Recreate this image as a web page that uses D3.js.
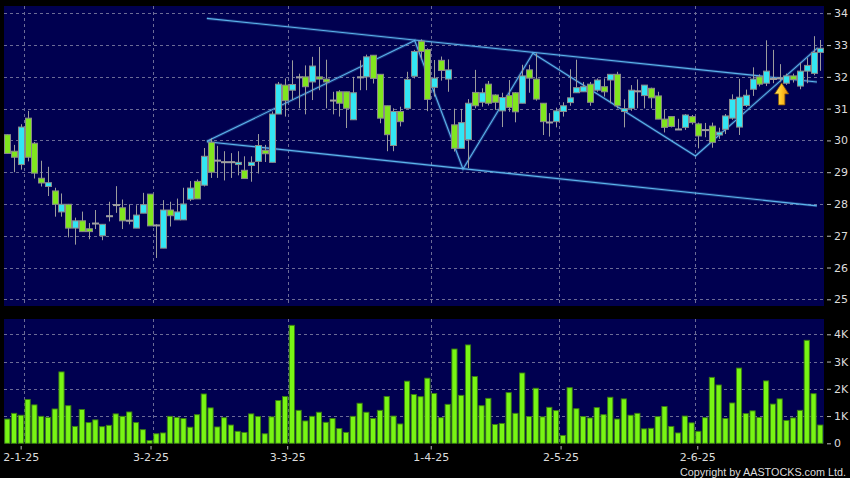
<!DOCTYPE html>
<html><head><meta charset="utf-8">
<script src="https://cdn.jsdelivr.net/npm/d3@7/dist/d3.min.js"></script>
<style>html,body{margin:0;padding:0;background:#000;}svg{display:block}</style>
</head><body>
<svg id="c" width="850" height="478"></svg>
<script>
// ---- data ----
const opens = [30.18,29.66,29.24,30.70,29.91,28.81,28.55,28.41,27.75,27.99,27.24,27.47,27.22,27.40,27.00,27.63,27.98,27.88,27.49,27.24,
27.71,28.31,27.34,26.61,27.81,27.50,27.50,28.15,28.71,28.59,29.94,29.38,29.33,29.33,29.24,29.06,29.21,29.34,29.69,29.31,
30.83,31.74,31.58,32.00,32.00,31.84,32.00,31.93,31.27,31.53,31.53,30.65,32.00,32.00,32.68,32.08,31.09,29.84,30.91,31.01,
32.02,33.12,32.86,31.67,32.52,31.93,30.49,29.75,30.02,31.51,31.20,31.77,31.43,30.93,31.41,31.50,31.17,32.22,31.93,31.17,
30.58,30.59,30.91,31.19,31.50,31.53,31.77,31.58,31.69,31.90,32.08,30.91,31.01,31.56,31.41,31.64,31.40,30.67,30.75,30.36,
30.41,30.75,30.52,30.34,30.45,30.17,30.35,30.70,30.42,31.10,31.61,32.00,31.80,31.95,31.97,31.80,32.03,31.71,32.18,32.11,32.77];
const highs = [30.19,29.86,30.51,30.93,29.95,29.36,29.17,28.51,28.33,28.00,27.57,27.76,27.40,27.81,27.36,28.07,28.56,28.14,27.99,27.96,
28.35,28.31,27.36,28.12,28.07,28.17,28.51,28.72,28.77,29.76,30.07,29.83,29.66,29.60,29.66,29.50,29.50,30.20,29.86,30.91,
31.84,31.95,32.52,32.10,32.36,32.63,32.94,32.54,31.53,31.58,31.53,32.00,32.52,32.70,32.68,32.08,31.09,31.01,31.06,32.16,
32.85,33.18,32.90,32.53,32.64,32.55,31.00,30.99,31.30,32.22,31.64,31.87,31.45,31.50,31.90,31.52,32.38,32.38,32.74,31.17,
30.86,31.03,31.20,32.24,32.54,31.84,31.84,31.95,31.95,32.08,32.16,31.29,31.74,31.92,31.74,31.66,31.53,30.96,30.75,30.68,
30.83,30.80,30.56,30.55,30.56,30.40,30.83,31.45,31.94,31.60,32.30,32.08,33.15,32.85,32.40,32.10,32.10,32.45,32.60,33.28,33.16];
const lows = [29.58,29.00,29.08,29.34,28.80,28.55,28.25,27.60,27.60,26.95,26.72,27.13,26.89,27.21,26.86,27.45,27.72,27.21,27.36,27.24,
27.71,27.31,26.30,26.61,27.29,27.50,27.50,28.09,28.16,28.55,28.82,28.82,28.74,28.82,28.90,28.80,28.70,28.96,29.32,29.31,
30.83,30.75,31.27,31.01,30.82,31.27,31.58,31.01,30.82,30.75,30.39,30.65,31.58,31.58,31.79,30.54,29.66,29.66,30.44,31.01,
31.95,32.55,30.92,31.38,31.88,31.53,29.65,29.75,29.13,31.01,31.06,31.10,30.96,30.42,30.90,30.57,31.17,31.50,31.25,30.17,
30.12,30.41,30.75,31.09,31.50,31.53,31.09,31.53,31.38,31.17,31.01,30.41,30.93,31.01,31.01,31.01,30.67,30.25,30.41,30.33,
30.33,30.50,29.75,30.10,29.77,30.05,30.20,30.65,30.17,31.05,31.40,31.70,31.71,31.80,31.85,31.75,31.82,31.61,31.80,32.05,32.19];
const closes = [29.59,29.47,30.42,29.47,28.97,28.66,28.67,27.99,27.99,27.24,27.47,27.13,27.13,27.40,27.36,27.63,27.98,27.47,27.49,27.65,
27.98,27.31,27.34,27.81,27.63,27.75,28.00,28.50,28.16,29.50,29.00,29.38,29.33,29.33,29.31,28.80,29.31,29.84,29.58,30.83,
31.77,31.25,31.76,32.00,31.69,32.34,31.93,31.84,31.27,31.17,31.01,31.50,32.00,32.63,31.95,30.70,30.18,30.91,30.59,31.92,
32.80,32.80,31.29,31.96,32.20,32.22,29.75,30.56,31.17,31.09,31.50,31.17,31.20,31.35,31.04,30.90,32.03,31.96,31.30,30.59,
30.58,30.93,31.09,31.34,31.66,31.69,31.20,31.90,31.53,32.08,31.09,31.00,31.58,31.56,31.74,31.34,30.67,30.41,30.44,30.36,
30.80,30.56,30.14,30.34,29.94,30.26,30.77,31.29,31.36,31.42,31.93,31.77,32.18,31.95,31.97,32.03,31.92,32.18,32.36,32.77,32.90];
const volumes = [890,1100,1030,1610,1410,990,950,1260,2620,1380,620,1240,760,860,610,660,1080,990,1150,760,
500,100,350,380,990,950,910,590,1050,1810,1300,600,940,670,440,400,1080,980,350,970,
1570,1720,4330,1210,820,990,1140,770,910,540,400,990,1470,1140,910,1210,1720,1000,710,2280,
1790,1710,2390,1830,940,1430,3460,1760,3610,2450,1380,1650,690,730,1860,1100,2580,980,2020,970,
1320,1200,290,2040,1270,980,930,1310,1050,1690,890,1630,1030,1100,530,550,980,1350,620,380,
1000,750,440,940,2420,2140,910,1480,2760,1090,1190,950,2290,1440,1630,840,930,1210,3780,1820,670];
const priceTicks = [25,26,27,28,29,30,31,32,33,34];
const volTicks = [0,1000,2000,3000,4000];
const volTickLabels = ["0","1K","2K","3K","4K"];
const dateTickIdx = [2,21,41,62,81,101];
const dateTickLabels = ["2-1-25","3-2-25","3-3-25","1-4-25","2-5-25","2-6-25"];
// drawn analysis lines: [candle index, price]
const channelUpper = [[29.45,33.84],[119.5,31.84]];
const channelLower = [[29.45,29.96],[119.5,27.94]];
const patternLine = [[29.45,29.97],[60.13,33.14],[67.26,29.10],[77.58,32.74],[101.58,29.51],[119.6,32.91]];
const signalArrow = [[114.3,31.81]];

// ---- drawing ----
const W = 850, H = 478;
const svg = d3.select("#c");
const NAVY = "#000050", GRID = "#6c6c96", UP = "#33e6f4", DOWN = "#80e61e", OUT = "#8a8a8a", WICK = "#9c9c9c";
const LINE = "#5cb4ec", TXT = "#dcdcdc";
const FONT = "DejaVu Sans";

svg.append("rect").attr("width", W).attr("height", H).attr("fill", "#000");

const N = closes.length;
const x = d3.scaleLinear().domain([0, N - 1]).range([7.3, 820.3]);
const xTick = d3.scaleLinear().domain([0, N - 2]).range([7, 820.3]);
const y = d3.scaleLinear().domain([25, 34]).range([299.3, 13.3]);
const yv = d3.scaleLinear().domain([0, 4000]).range([443.3, 334.3]);

const main = {l: 4, r: 824, t: 6, b: 306};
const vol = {l: 4, r: 824, t: 319, b: 443.3};

svg.append("rect").attr("x", main.l).attr("y", main.t).attr("width", main.r - main.l).attr("height", main.b - main.t).attr("fill", NAVY);
svg.append("rect").attr("x", vol.l).attr("y", vol.t).attr("width", vol.r - vol.l).attr("height", vol.b - vol.t).attr("fill", NAVY);

const grid = svg.append("g").attr("stroke", GRID).attr("stroke-width", 1).attr("stroke-dasharray", "3,3").attr("shape-rendering", "crispEdges");
grid.selectAll(".hp").data(priceTicks).join("line")
  .attr("x1", main.l).attr("x2", main.r).attr("y1", d => Math.round(y(d)) + 0.5).attr("y2", d => Math.round(y(d)) + 0.5);
grid.selectAll(".hv").data(volTicks.slice(1)).join("line")
  .attr("x1", vol.l).attr("x2", vol.r).attr("y1", d => Math.round(yv(d)) + 0.5).attr("y2", d => Math.round(yv(d)) + 0.5);
grid.selectAll(".vm").data(dateTickIdx).join("line")
  .attr("x1", d => Math.round(x(d + 0.5)) + 0.5).attr("x2", d => Math.round(x(d + 0.5)) + 0.5).attr("y1", main.t).attr("y2", main.b);
grid.selectAll(".vv").data(dateTickIdx).join("line")
  .attr("x1", d => Math.round(x(d + 0.5)) + 0.5).attr("x2", d => Math.round(x(d + 0.5)) + 0.5).attr("y1", vol.t).attr("y2", vol.b);

// volume bars
svg.append("g").selectAll("rect").data(volumes).join("rect")
  .attr("x", (d, i) => x(i) - 2.6).attr("width", 5.2)
  .attr("y", d => yv(d)).attr("height", d => yv(0) - yv(d))
  .attr("fill", "#78f514").attr("stroke", "#3a7d12").attr("stroke-width", 0.9);

// trend lines
const lineGen = d3.line().x(d => x(d[0])).y(d => y(d[1]));
const tl = svg.append("g").attr("fill", "none");
[channelUpper, channelLower, patternLine].forEach(pts => {
  tl.append("path").attr("d", lineGen(pts)).attr("stroke", LINE).attr("stroke-opacity", 0.25).attr("stroke-width", 3);
  tl.append("path").attr("d", lineGen(pts)).attr("stroke", LINE).attr("stroke-width", 1.1);
});

// candles
const idx = d3.range(N);
const cg = svg.append("g");
cg.selectAll("line").data(idx).join("line")
  .attr("x1", i => Math.round(x(i)) + 0.5).attr("x2", i => Math.round(x(i)) + 0.5)
  .attr("y1", i => y(highs[i])).attr("y2", i => y(lows[i]))
  .attr("stroke", WICK).attr("stroke-width", 1);
cg.selectAll("rect").data(idx).join("rect")
  .attr("x", i => Math.round(x(i)) - 2.5).attr("width", 6)
  .attr("y", i => y(Math.max(opens[i], closes[i])))
  .attr("height", i => Math.max(1, y(Math.min(opens[i], closes[i])) - y(Math.max(opens[i], closes[i]))))
  .attr("fill", i => closes[i] > opens[i] ? UP : (closes[i] < opens[i] ? DOWN : "#a0a0a0"))
  .attr("stroke", i => closes[i] === opens[i] ? "#a0a0a0" : OUT).attr("stroke-width", 1);

// signal arrow
const defs = svg.append("defs");
const gr = defs.append("linearGradient").attr("id", "ag").attr("x1", 0).attr("x2", 1).attr("y1", 0).attr("y2", 0);
gr.append("stop").attr("offset", "0%").attr("stop-color", "#ffe866");
gr.append("stop").attr("offset", "50%").attr("stop-color", "#ffc424");
gr.append("stop").attr("offset", "100%").attr("stop-color", "#e88a0c");
svg.append("g").selectAll("path").data(signalArrow).join("path")
  .attr("transform", d => `translate(${x(d[0])},${y(d[1])})`)
  .attr("d", "M0,0 L7,11 L3.2,11 L3.2,22 L-3.2,22 L-3.2,11 L-7,11 Z")
  .attr("fill", "url(#ag)").attr("stroke", "#8a5a08").attr("stroke-width", 0.8);

// axes
function styleAxis(g) {
  g.select(".domain").remove();
  g.selectAll(".tick line").attr("stroke", "#bbbbbb");
  g.selectAll(".tick text").attr("fill", TXT).attr("font-family", FONT).attr("font-size", 11);
}
svg.append("g").attr("transform", "translate(827,0)")
  .call(d3.axisRight(y).tickValues(priceTicks).tickSize(4).tickPadding(3).tickFormat(d3.format("d")))
  .call(styleAxis);
svg.append("g").attr("transform", "translate(827,0)")
  .call(d3.axisRight(yv).tickValues(volTicks).tickSize(4).tickPadding(3).tickFormat((d, i) => volTickLabels[i]))
  .call(styleAxis);
svg.append("g").attr("transform", "translate(0,446)")
  .call(d3.axisBottom(xTick).tickValues(dateTickIdx).tickSize(3.5).tickPadding(4).tickFormat((d, i) => dateTickLabels[i]))
  .call(styleAxis);

svg.append("text").attr("x", 846).attr("y", 475.5).attr("text-anchor", "end")
  .attr("font-family", "Liberation Sans").attr("font-size", 10.8).attr("fill", TXT)
  .text("Copyright by AASTOCKS.com Ltd.");
</script>
</body></html>
